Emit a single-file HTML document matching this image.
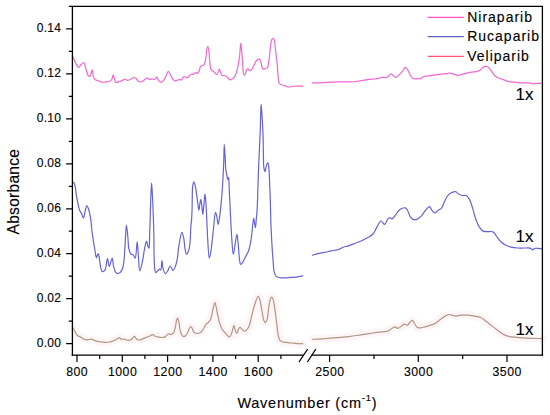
<!DOCTYPE html>
<html><head><meta charset="utf-8"><style>
html,body{margin:0;padding:0;background:#fff;}
body{width:550px;height:415px;overflow:hidden;font-family:"Liberation Sans",sans-serif;}
svg{display:block;}
</style></head><body>
<svg width="550" height="415" viewBox="0 0 550 415">
<rect width="550" height="415" fill="#fff"/>
<g fill="none" stroke-linejoin="round" stroke-linecap="round">
<polyline points="72.3,326.5 74.9,331.4 77.4,335.5 79.8,336.6 83.1,338.7 87.2,339.9 91.3,339.2 95.4,340.9 99.5,341.7 104.4,342.3 109.3,342.0 113.4,340.9 117.5,338.7 119.4,337.6 121.1,339.1 124.0,339.2 128.1,340.4 131.4,339.5 134.2,336.3 137.1,339.5 140.4,339.9 143.6,338.4 146.9,337.1 149.4,336.3 152.7,334.6 155.1,336.3 158.6,337.2 162.3,337.5 165.2,336.9 168.1,334.0 170.3,334.3 173.2,333.5 175.4,327.0 176.5,320.5 177.5,318.0 178.7,321.2 180.0,329.2 181.5,334.3 183.4,336.5 185.5,335.7 187.7,332.5 189.9,327.7 191.4,326.7 192.8,329.9 194.6,332.8 197.2,333.5 200.1,332.8 202.3,330.6 204.5,327.0 206.2,324.1 208.1,322.6 210.3,320.0 212.0,313.9 213.5,306.6 214.9,302.6 216.4,308.1 217.8,315.4 219.7,323.4 221.9,328.7 224.8,332.5 227.5,335.5 229.7,337.0 232.0,332.0 233.9,325.4 235.2,330.4 236.7,333.5 238.3,329.6 239.9,327.3 242.2,329.6 244.6,331.2 246.9,329.6 249.3,325.7 251.6,316.3 254.0,306.9 256.3,299.9 258.2,296.3 259.7,299.1 261.8,310.0 263.8,320.2 265.4,322.6 267.3,318.6 268.8,306.9 270.4,299.1 271.6,297.2 273.2,299.9 274.8,308.5 276.6,322.6 278.2,335.1 279.8,340.1 282.1,341.7 287.6,342.6 293.9,343.2 298.6,343.7 303.2,343.7" stroke="#fef5f7" stroke-width="8"/>
<polyline points="311.9,339.3 322.5,338.8 337.7,337.7 348.6,336.6 359.5,335.1 370.5,333.4 379.2,332.1 387.5,331.2 391.2,329.0 394.9,326.8 397.7,328.3 401.0,326.4 404.3,324.2 407.6,325.1 409.7,322.5 412.4,320.3 414.5,323.5 417.4,327.5 420.6,327.9 424.6,326.8 427.1,326.3 434.2,323.9 440.1,319.7 446.0,315.6 449.6,314.5 453.1,315.6 456.6,316.1 460.2,315.2 467.3,315.2 474.4,316.1 480.3,317.3 485.0,320.4 490.9,325.1 498.0,330.5 503.9,334.6 508.7,336.4 516.9,337.4 526.4,338.1 542.4,338.6" stroke="#fef5f7" stroke-width="8"/>
</g>
<g fill="none" stroke-width="1.2" stroke-linejoin="round">
<path d="M72.40,55.00 C72.73,55.90 73.68,58.72 74.40,60.40 C75.06,61.93 75.71,63.49 76.50,64.70 C77.17,65.72 77.97,67.30 78.70,67.30 C79.43,67.30 80.07,65.49 80.90,64.70 C81.76,63.88 83.02,62.26 83.80,62.50 C84.88,62.84 85.26,66.91 86.00,69.10 C86.73,71.28 87.19,74.52 88.20,75.60 C88.75,76.19 89.56,76.65 90.10,76.40 C91.08,75.94 91.56,69.78 92.10,69.80 C92.60,69.82 92.76,73.87 93.30,75.60 C93.76,77.08 94.08,78.75 95.00,79.60 C95.84,80.37 97.26,80.28 98.40,80.70 C99.59,81.14 100.71,81.99 102.00,82.20 C103.37,82.43 105.09,82.04 106.40,81.90 C107.47,81.79 108.43,81.83 109.30,81.50 C110.13,81.18 110.90,80.79 111.50,80.00 C112.36,78.88 112.79,74.89 113.30,74.90 C113.73,74.91 113.99,77.30 114.40,78.50 C114.82,79.73 114.93,81.71 115.80,82.20 C116.65,82.68 118.35,81.82 119.50,81.50 C120.54,81.21 121.47,80.82 122.40,80.40 C123.30,79.99 124.14,78.99 125.00,79.00 C125.84,79.01 126.62,80.33 127.50,80.40 C128.42,80.47 129.39,79.74 130.40,79.30 C131.55,78.80 132.94,77.52 134.00,77.50 C134.82,77.48 135.53,77.96 136.20,78.50 C137.03,79.18 137.42,81.00 138.40,81.50 C139.36,81.99 140.99,81.81 142.00,81.50 C142.87,81.23 143.57,80.46 144.20,80.00 C144.70,79.64 145.03,79.33 145.50,79.00 C146.02,78.63 146.60,77.89 147.20,77.90 C147.89,77.91 148.58,79.22 149.40,79.40 C150.27,79.59 151.40,78.88 152.30,78.90 C153.09,78.92 153.83,79.60 154.50,79.40 C155.28,79.16 155.94,77.13 156.60,77.20 C157.38,77.28 157.96,79.92 158.80,80.80 C159.47,81.50 160.22,82.32 161.00,82.30 C161.91,82.28 163.09,81.08 163.90,80.10 C164.84,78.96 165.36,77.16 166.10,75.70 C166.83,74.26 167.54,71.43 168.30,71.40 C169.01,71.37 169.78,73.80 170.50,75.00 C171.21,76.20 171.82,77.59 172.60,78.60 C173.27,79.47 173.94,80.56 174.80,80.80 C175.64,81.04 176.80,80.35 177.70,80.10 C178.49,79.88 179.24,79.36 179.90,79.40 C180.46,79.44 180.94,80.24 181.40,80.10 C182.05,79.90 182.39,77.79 183.10,77.20 C183.65,76.74 184.36,76.43 185.00,76.50 C185.73,76.58 186.50,77.98 187.20,77.90 C187.97,77.82 188.66,76.37 189.40,75.70 C190.09,75.08 190.74,74.21 191.50,74.00 C192.19,73.81 193.04,74.51 193.70,74.30 C194.42,74.07 194.94,72.58 195.60,72.50 C196.18,72.43 196.85,73.61 197.40,73.50 C198.03,73.38 198.62,72.31 199.10,71.40 C199.77,70.12 199.78,67.22 200.60,66.30 C201.11,65.73 201.92,65.77 202.50,65.50 C203.01,65.27 203.49,65.30 203.90,64.80 C204.76,63.77 205.33,60.65 205.80,58.30 C206.34,55.61 206.34,51.69 206.80,49.50 C207.08,48.15 207.48,46.30 207.80,46.30 C208.12,46.30 208.44,48.10 208.70,49.50 C209.17,52.05 209.26,56.98 209.70,60.50 C210.11,63.76 210.12,68.20 211.20,69.90 C211.77,70.80 212.77,70.88 213.40,71.40 C213.94,71.85 214.27,72.32 214.80,72.80 C215.44,73.38 216.36,74.76 217.00,74.60 C217.92,74.37 218.54,69.20 219.20,69.20 C219.71,69.20 220.10,71.44 220.60,72.50 C221.07,73.51 221.40,74.95 222.10,75.40 C222.65,75.75 223.43,75.37 224.10,75.50 C224.80,75.63 225.55,75.79 226.20,76.20 C226.94,76.67 227.47,77.68 228.20,78.30 C228.93,78.92 229.79,79.89 230.60,79.90 C231.42,79.91 232.34,79.02 233.10,78.30 C234.00,77.46 234.80,76.45 235.50,75.00 C236.56,72.80 237.32,69.08 238.00,66.00 C238.70,62.82 239.15,59.71 239.60,56.20 C240.11,52.16 240.41,43.11 240.80,43.10 C241.07,43.10 241.35,47.05 241.60,49.60 C241.96,53.21 242.24,58.48 242.60,62.70 C242.94,66.66 242.77,72.64 243.70,74.20 C244.03,74.75 244.55,75.12 244.90,75.00 C245.50,74.79 245.65,72.05 246.20,70.90 C246.65,69.96 247.24,68.53 247.80,68.50 C248.34,68.47 248.82,70.46 249.50,70.60 C250.18,70.74 251.19,70.03 251.90,69.30 C252.91,68.26 253.55,65.95 254.40,64.40 C255.19,62.96 255.84,61.19 256.80,60.30 C257.54,59.62 258.63,58.89 259.30,59.10 C260.02,59.33 260.46,60.76 260.90,61.90 C261.50,63.43 261.49,66.32 262.20,67.60 C262.65,68.42 263.31,69.20 263.90,69.30 C264.41,69.38 264.93,68.77 265.50,68.50 C266.13,68.20 266.97,68.27 267.50,67.60 C268.53,66.30 268.62,62.62 269.10,59.50 C269.74,55.32 270.11,48.34 270.70,44.70 C271.05,42.55 271.23,40.70 271.80,39.60 C272.13,38.96 272.60,38.30 273.00,38.30 C273.40,38.30 273.87,38.90 274.20,39.60 C274.92,41.13 274.91,44.81 275.30,48.00 C275.82,52.22 276.52,57.94 277.00,62.70 C277.45,67.19 277.67,72.06 278.10,75.80 C278.43,78.62 278.30,81.72 279.20,83.20 C279.74,84.09 280.55,84.41 281.40,84.80 C282.33,85.23 283.54,85.24 284.60,85.60 C285.71,85.97 286.72,86.83 287.90,87.00 C289.17,87.18 290.57,86.65 292.00,86.50 C293.56,86.34 295.16,86.17 296.90,86.10 C298.87,86.02 302.15,86.10 303.20,86.10" stroke="#f266d2"/>
<path d="M311.90,82.80 C313.17,82.80 316.99,82.89 319.50,82.80 C321.96,82.72 324.37,82.42 326.80,82.30 C329.23,82.18 331.67,82.18 334.10,82.10 C336.53,82.02 338.97,81.85 341.40,81.80 C343.81,81.75 346.19,81.85 348.60,81.80 C351.03,81.75 353.47,81.73 355.90,81.50 C358.34,81.27 360.91,80.79 363.20,80.40 C365.25,80.05 367.04,79.53 369.00,79.30 C370.98,79.06 373.16,79.25 375.00,79.00 C376.59,78.78 377.99,78.33 379.40,78.00 C380.71,77.70 381.97,77.15 383.20,77.10 C384.33,77.05 385.57,77.84 386.50,77.60 C387.33,77.39 387.88,76.59 388.60,76.00 C389.41,75.34 390.33,73.80 391.10,73.80 C391.78,73.80 392.29,74.94 393.00,75.50 C393.80,76.14 394.80,77.40 395.70,77.40 C396.60,77.40 397.49,76.27 398.40,75.50 C399.48,74.59 400.79,73.28 401.70,72.20 C402.47,71.29 402.97,70.35 403.60,69.50 C404.17,68.72 404.68,67.37 405.30,67.30 C405.89,67.24 406.65,68.20 407.20,68.90 C407.86,69.75 408.27,71.10 408.80,72.20 C409.33,73.30 409.76,74.49 410.40,75.50 C411.03,76.48 411.72,77.64 412.60,78.20 C413.38,78.70 414.35,78.81 415.30,78.90 C416.34,79.00 417.61,78.73 418.60,78.70 C419.41,78.68 420.26,78.92 420.80,78.70 C421.21,78.53 421.32,78.08 421.70,77.80 C422.18,77.44 422.76,77.07 423.50,76.80 C424.51,76.42 425.98,76.23 427.30,76.00 C428.71,75.76 430.29,75.59 431.70,75.40 C433.01,75.22 434.12,75.09 435.50,74.90 C437.14,74.67 439.09,74.32 440.90,74.10 C442.72,73.88 444.85,73.83 446.40,73.60 C447.56,73.43 448.36,72.99 449.40,73.00 C450.52,73.02 451.76,73.48 452.90,73.80 C454.02,74.11 455.25,74.62 456.20,74.90 C456.92,75.11 457.37,75.41 458.10,75.40 C459.09,75.39 460.36,74.73 461.60,74.40 C462.98,74.03 464.45,73.65 466.00,73.30 C467.70,72.91 469.50,72.52 471.40,72.20 C473.48,71.85 476.34,71.93 478.00,71.30 C479.16,70.86 479.82,70.18 480.70,69.50 C481.63,68.79 482.49,67.62 483.40,67.10 C484.13,66.69 484.86,66.45 485.60,66.40 C486.33,66.35 487.17,66.47 487.80,66.80 C488.44,67.13 488.80,67.71 489.40,68.40 C490.32,69.46 491.51,71.29 492.60,72.70 C493.68,74.09 494.57,75.83 495.90,76.80 C497.16,77.72 498.84,77.95 500.30,78.50 C501.74,79.05 503.26,79.59 504.60,80.10 C505.77,80.55 506.64,81.06 507.90,81.40 C509.48,81.82 511.49,81.97 513.40,82.20 C515.47,82.45 517.73,82.68 519.90,82.80 C522.06,82.92 524.44,82.84 526.40,82.90 C528.01,82.95 529.72,82.79 530.80,83.10 C531.50,83.30 531.84,83.92 532.40,84.00 C532.94,84.08 533.44,83.70 534.10,83.60 C534.99,83.47 536.11,83.45 537.30,83.40 C538.80,83.34 541.55,83.32 542.40,83.30" stroke="#f266d2"/>
<path d="M72.30,183.10 C72.52,182.98 73.21,182.26 73.60,182.40 C74.23,182.62 74.68,184.46 75.10,186.00 C75.78,188.50 75.97,193.09 76.50,196.20 C76.95,198.84 77.49,201.14 78.00,203.50 C78.49,205.73 78.78,208.20 79.50,210.00 C80.07,211.43 80.97,212.32 81.60,213.60 C82.28,214.97 82.84,218.04 83.40,218.00 C84.10,217.95 84.71,212.91 85.30,210.70 C85.80,208.85 86.11,205.68 86.70,205.60 C87.13,205.54 87.76,207.10 88.20,208.10 C88.77,209.41 89.18,211.01 89.60,212.90 C90.19,215.52 90.72,219.45 91.10,222.40 C91.43,224.96 91.49,226.96 91.80,229.60 C92.18,232.84 92.76,236.86 93.30,240.40 C93.83,243.83 94.42,247.41 95.00,250.50 C95.49,253.14 95.90,257.75 96.50,257.80 C96.97,257.84 97.64,253.49 98.10,253.50 C98.48,253.50 98.79,255.12 99.10,256.40 C99.66,258.73 99.83,263.73 100.50,266.50 C100.99,268.52 101.37,271.24 102.30,271.60 C102.99,271.87 104.18,271.15 104.90,270.20 C106.35,268.28 106.71,258.50 107.50,258.50 C108.15,258.50 108.54,266.46 109.30,266.50 C110.09,266.54 111.48,258.04 112.20,258.10 C112.90,258.16 112.83,263.91 113.60,266.50 C114.31,268.88 115.10,272.36 116.50,273.10 C117.51,273.63 119.18,273.17 120.20,272.40 C121.54,271.38 122.35,269.15 123.10,266.50 C124.42,261.84 124.45,253.04 125.00,246.20 C125.56,239.24 125.83,225.12 126.40,225.10 C126.84,225.09 127.48,233.43 127.90,237.50 C128.31,241.43 128.14,246.06 128.90,249.10 C129.43,251.20 130.12,253.31 131.10,254.20 C131.73,254.77 132.67,254.40 133.30,254.90 C134.10,255.54 134.67,258.21 135.20,258.10 C136.32,257.87 136.66,241.79 137.20,241.80 C137.71,241.81 137.97,251.54 138.40,256.40 C138.83,261.24 139.00,270.83 139.80,270.90 C140.47,270.96 141.74,264.47 142.50,261.00 C143.33,257.24 143.76,252.66 144.50,249.10 C145.11,246.16 145.90,241.10 146.50,241.10 C146.97,241.10 147.31,244.71 147.80,246.00 C148.14,246.90 148.61,248.26 148.90,248.20 C149.54,248.07 149.39,240.62 149.60,236.00 C149.87,229.95 150.07,222.08 150.30,215.00 C150.54,207.75 150.73,198.90 151.00,193.00 C151.18,189.02 151.38,183.00 151.60,183.00 C151.84,183.00 152.16,190.78 152.40,195.00 C152.67,199.72 152.89,204.52 153.10,210.00 C153.36,216.63 153.59,223.87 153.80,232.00 C154.06,242.10 153.86,259.08 154.50,266.00 C154.79,269.07 154.88,272.32 155.60,272.60 C155.97,272.74 156.55,271.91 157.00,271.50 C157.48,271.06 157.93,270.40 158.40,270.00 C158.80,269.66 159.22,269.17 159.60,269.20 C159.99,269.23 160.39,270.31 160.70,270.20 C161.49,269.91 161.59,260.70 162.00,260.70 C162.38,260.70 162.41,266.58 163.10,268.90 C163.66,270.76 164.53,273.59 165.40,273.70 C166.13,273.79 167.06,271.94 167.80,270.80 C168.68,269.44 169.31,266.05 170.20,266.00 C171.08,265.95 172.21,270.44 173.10,270.40 C173.97,270.36 174.83,267.77 175.50,266.00 C176.40,263.64 177.00,260.22 177.50,257.30 C178.00,254.39 178.16,251.05 178.50,248.50 C178.76,246.54 178.90,245.34 179.30,243.30 C179.88,240.32 181.06,232.44 181.90,232.40 C182.48,232.37 183.13,235.43 183.60,237.50 C184.30,240.56 184.48,246.03 185.10,249.10 C185.51,251.16 185.85,254.11 186.50,254.20 C187.09,254.28 188.13,252.11 188.70,250.50 C189.58,248.02 189.84,244.09 190.20,240.40 C190.63,235.99 190.59,229.64 190.90,225.80 C191.10,223.29 191.41,221.99 191.60,219.60 C191.85,216.34 191.94,212.47 192.10,208.00 C192.32,201.87 192.09,190.68 192.70,186.20 C192.98,184.15 193.37,181.82 193.80,181.80 C194.24,181.78 194.87,184.46 195.30,186.20 C195.90,188.59 196.25,191.79 196.70,194.90 C197.22,198.49 197.76,203.71 198.20,206.50 C198.45,208.08 198.66,210.20 198.90,210.20 C199.22,210.19 199.55,205.56 199.90,203.60 C200.19,202.01 200.51,199.29 200.80,199.30 C201.14,199.31 201.50,202.93 201.80,205.10 C202.18,207.85 202.45,214.50 202.80,214.50 C203.18,214.50 203.62,207.10 204.00,203.60 C204.35,200.35 204.67,194.20 205.00,194.20 C205.30,194.20 205.65,199.21 205.90,202.20 C206.22,206.01 206.36,210.30 206.60,215.20 C206.92,221.57 207.14,229.96 207.60,237.20 C208.05,244.29 208.51,258.14 209.30,258.20 C209.78,258.23 210.46,253.81 211.00,250.60 C211.91,245.21 212.70,235.47 213.50,228.70 C214.19,222.84 214.70,212.37 215.50,212.30 C215.93,212.26 216.49,215.17 216.90,216.90 C217.42,219.08 217.73,224.40 218.20,224.40 C218.72,224.40 219.43,218.47 219.90,215.20 C220.43,211.52 220.75,207.00 221.10,203.40 C221.40,200.36 221.63,198.37 221.90,195.00 C222.30,189.94 222.78,182.06 223.10,176.00 C223.40,170.44 223.60,165.30 223.80,160.00 C224.00,154.77 224.05,144.40 224.30,144.40 C224.55,144.40 225.06,155.55 225.30,160.00 C225.48,163.32 225.42,166.10 225.70,168.70 C225.93,170.84 226.36,172.63 226.70,174.50 C227.02,176.26 227.30,179.56 227.70,179.60 C227.97,179.63 228.36,177.46 228.60,177.50 C229.13,177.59 228.98,184.84 229.20,189.10 C229.47,194.31 229.84,201.11 230.10,206.50 C230.33,211.18 230.46,214.91 230.70,219.60 C230.98,225.04 231.26,231.36 231.70,237.20 C232.13,243.00 232.61,254.47 233.30,254.50 C233.86,254.52 234.66,246.55 235.30,243.00 C235.85,239.92 236.42,234.39 236.90,234.40 C237.39,234.41 237.82,240.23 238.20,243.70 C238.68,248.08 238.85,254.82 239.40,258.60 C239.74,260.96 239.84,264.07 240.60,264.30 C241.15,264.47 242.12,263.12 242.80,262.20 C243.73,260.95 244.40,258.99 245.30,257.20 C246.34,255.13 247.78,253.12 248.70,250.50 C249.87,247.18 250.52,242.90 251.20,238.70 C251.96,233.97 252.40,227.21 252.90,223.50 C253.19,221.34 253.37,218.40 253.70,218.40 C254.15,218.39 254.98,227.72 255.40,227.70 C255.78,227.69 255.94,222.81 256.20,220.10 C256.50,216.97 256.84,214.12 257.10,210.00 C257.50,203.53 257.72,192.87 258.00,185.00 C258.25,177.96 258.45,171.19 258.70,165.00 C258.92,159.64 259.16,155.23 259.40,150.00 C259.66,144.27 259.96,138.43 260.20,132.00 C260.47,124.58 260.65,112.46 260.90,108.00 C261.00,106.27 261.07,104.40 261.20,104.40 C261.48,104.40 262.08,116.25 262.40,121.80 C262.70,126.88 262.92,130.97 263.10,136.40 C263.32,143.24 263.34,153.95 263.50,159.60 C263.59,162.86 263.46,165.12 263.80,167.30 C264.06,168.96 264.58,171.61 265.00,171.60 C265.54,171.59 265.99,165.86 266.70,164.40 C267.06,163.66 267.58,162.82 267.90,162.90 C268.47,163.05 268.64,166.37 268.90,168.70 C269.29,172.18 269.38,176.88 269.60,181.80 C269.89,188.15 270.18,196.50 270.40,203.60 C270.61,210.38 270.65,216.84 270.90,223.50 C271.15,230.21 271.51,237.27 271.90,243.70 C272.25,249.59 272.66,255.47 273.10,260.60 C273.47,264.89 273.43,269.52 274.30,272.40 C274.85,274.22 275.40,275.70 276.50,276.60 C277.56,277.46 279.22,277.59 280.70,277.80 C282.28,278.02 284.03,277.87 285.70,277.80 C287.39,277.73 289.11,277.52 290.80,277.40 C292.47,277.28 294.30,277.26 295.80,277.10 C297.05,276.97 298.02,276.82 299.20,276.60 C300.48,276.36 302.53,275.85 303.20,275.70" stroke="#6462d8"/>
<path d="M311.90,255.30 C312.93,255.03 316.00,254.18 318.10,253.70 C320.23,253.21 322.43,252.86 324.60,252.40 C326.79,251.93 329.00,251.34 331.20,250.90 C333.37,250.47 335.67,250.44 337.70,249.80 C339.65,249.19 341.34,247.86 343.20,247.20 C344.98,246.57 346.73,246.49 348.60,245.90 C350.71,245.23 353.01,244.17 355.20,243.30 C357.38,242.44 359.65,241.65 361.70,240.70 C363.63,239.81 365.39,238.83 367.20,237.80 C369.02,236.76 371.05,236.08 372.60,234.50 C374.42,232.64 375.54,229.25 377.00,226.90 C378.31,224.79 379.51,221.18 380.90,221.00 C382.07,220.85 383.40,224.45 384.60,224.30 C386.12,224.11 387.42,218.24 389.00,217.70 C390.05,217.34 391.29,219.08 392.30,218.80 C393.53,218.46 394.44,216.31 395.60,214.90 C396.95,213.26 398.16,210.66 399.90,209.50 C401.48,208.44 404.06,207.50 405.40,207.90 C406.43,208.21 406.88,209.36 407.60,210.50 C408.69,212.21 409.32,215.91 410.80,217.50 C412.00,218.78 413.73,219.90 415.20,219.90 C416.67,219.90 418.44,218.32 419.60,217.50 C420.47,216.88 420.98,216.41 421.70,215.60 C422.67,214.51 423.52,212.80 424.70,211.40 C426.06,209.80 428.25,206.46 429.50,206.60 C430.49,206.71 430.92,209.12 431.80,210.20 C432.66,211.25 433.70,212.94 434.70,213.00 C435.67,213.06 436.62,211.50 437.70,210.70 C438.93,209.78 440.59,209.18 441.70,207.80 C443.09,206.08 443.64,202.92 444.80,200.70 C445.89,198.60 447.03,196.21 448.40,194.80 C449.46,193.70 450.68,193.02 451.90,192.50 C453.05,192.01 454.36,191.46 455.50,191.70 C456.74,191.96 457.77,193.66 459.00,194.30 C460.15,194.90 461.39,195.30 462.60,195.50 C463.76,195.69 465.03,195.01 466.10,195.50 C467.42,196.11 468.57,197.79 469.60,199.60 C471.08,202.21 472.31,207.26 473.20,210.20 C473.82,212.26 474.04,213.67 474.60,215.50 C475.22,217.52 475.96,219.80 476.80,221.80 C477.60,223.72 478.41,225.70 479.50,227.30 C480.50,228.77 481.59,230.39 483.00,231.10 C484.35,231.78 486.18,231.52 487.70,231.60 C489.11,231.67 490.68,231.37 491.80,231.60 C492.64,231.77 493.20,231.92 493.90,232.50 C495.04,233.44 496.07,235.88 497.30,237.50 C498.56,239.15 499.94,241.01 501.40,242.30 C502.69,243.44 503.99,244.22 505.50,245.00 C507.14,245.84 508.96,246.60 510.90,247.10 C513.01,247.64 515.42,247.85 517.70,248.00 C519.99,248.15 522.44,247.96 524.60,248.00 C526.51,248.04 528.53,247.78 530.00,248.20 C531.13,248.52 531.96,249.84 532.80,249.80 C533.53,249.77 534.00,248.65 534.80,248.40 C535.75,248.10 537.01,248.30 538.20,248.40 C539.53,248.51 541.70,248.98 542.40,249.10" stroke="#6462d8"/>
<path d="M72.30,326.50 C72.73,327.32 74.02,329.85 74.90,331.40 C75.72,332.84 76.43,334.63 77.40,335.50 C78.12,336.14 78.95,336.14 79.80,336.60 C80.83,337.16 81.90,338.16 83.10,338.70 C84.36,339.27 85.82,339.82 87.20,339.90 C88.56,339.98 89.95,339.05 91.30,339.20 C92.69,339.36 94.01,340.48 95.40,340.90 C96.75,341.31 98.07,341.47 99.50,341.70 C101.06,341.95 102.76,342.25 104.40,342.30 C106.03,342.35 107.75,342.25 109.30,342.00 C110.74,341.77 112.06,341.43 113.40,340.90 C114.80,340.35 116.40,339.32 117.50,338.70 C118.26,338.28 118.80,337.54 119.40,337.60 C120.01,337.66 120.40,338.82 121.10,339.10 C121.89,339.42 122.96,339.03 124.00,339.20 C125.26,339.40 126.81,340.39 128.10,340.40 C129.26,340.41 130.42,340.11 131.40,339.50 C132.49,338.82 133.25,336.31 134.20,336.30 C135.15,336.29 135.98,338.92 137.10,339.50 C138.08,340.01 139.33,340.07 140.40,339.90 C141.50,339.72 142.52,338.87 143.60,338.40 C144.68,337.93 145.87,337.47 146.90,337.10 C147.79,336.78 148.52,336.66 149.40,336.30 C150.44,335.87 151.71,334.53 152.70,334.60 C153.58,334.66 154.18,335.87 155.10,336.30 C156.12,336.77 157.41,337.00 158.60,337.20 C159.81,337.40 161.15,337.57 162.30,337.50 C163.33,337.44 164.30,337.39 165.20,336.90 C166.26,336.33 167.12,334.33 168.10,334.00 C168.82,333.76 169.52,334.35 170.30,334.30 C171.21,334.24 172.42,334.23 173.20,333.50 C174.37,332.39 174.85,329.19 175.40,327.00 C175.94,324.85 176.04,322.14 176.50,320.50 C176.79,319.45 177.16,318.00 177.50,318.00 C177.89,318.00 178.35,319.87 178.70,321.20 C179.24,323.25 179.46,326.85 180.00,329.20 C180.43,331.11 180.80,333.01 181.50,334.30 C182.02,335.26 182.68,336.32 183.40,336.50 C184.03,336.66 184.86,336.20 185.50,335.70 C186.34,335.04 187.01,333.71 187.70,332.50 C188.50,331.09 189.09,328.65 189.90,327.70 C190.37,327.14 190.97,326.57 191.40,326.70 C192.00,326.88 192.26,328.88 192.80,329.90 C193.33,330.91 193.80,332.21 194.60,332.80 C195.31,333.33 196.31,333.49 197.20,333.50 C198.14,333.51 199.26,333.27 200.10,332.80 C200.96,332.32 201.61,331.47 202.30,330.60 C203.10,329.59 203.82,328.14 204.50,327.00 C205.11,325.98 205.54,324.86 206.20,324.10 C206.76,323.45 207.47,323.21 208.10,322.60 C208.84,321.88 209.70,321.13 210.30,320.00 C211.12,318.46 211.48,316.03 212.00,313.90 C212.56,311.59 212.93,308.65 213.50,306.60 C213.93,305.05 214.45,302.58 214.90,302.60 C215.42,302.62 215.94,306.13 216.40,308.10 C216.92,310.35 217.27,312.92 217.80,315.40 C218.36,318.01 218.93,321.03 219.70,323.40 C220.34,325.38 221.00,327.13 221.90,328.70 C222.72,330.13 223.83,331.33 224.80,332.50 C225.69,333.58 226.60,334.71 227.50,335.50 C228.23,336.14 229.05,337.18 229.70,337.00 C230.64,336.74 231.33,333.81 232.00,332.00 C232.75,329.98 233.34,325.39 233.90,325.40 C234.39,325.41 234.67,328.95 235.20,330.40 C235.63,331.58 236.21,333.52 236.70,333.50 C237.24,333.48 237.70,330.70 238.30,329.60 C238.79,328.70 239.28,327.36 239.90,327.30 C240.57,327.24 241.39,328.94 242.20,329.60 C242.96,330.22 243.81,331.21 244.60,331.20 C245.38,331.19 246.20,330.35 246.90,329.60 C247.80,328.65 248.61,327.35 249.30,325.70 C250.30,323.30 250.82,319.43 251.60,316.30 C252.38,313.16 253.16,309.79 254.00,306.90 C254.73,304.38 255.48,301.82 256.30,299.90 C256.91,298.47 257.60,296.30 258.20,296.30 C258.73,296.30 259.24,297.81 259.70,299.10 C260.55,301.50 261.11,306.43 261.80,310.00 C262.47,313.46 262.91,318.03 263.80,320.20 C264.27,321.34 264.88,322.64 265.40,322.60 C266.05,322.55 266.79,320.33 267.30,318.60 C268.13,315.77 268.22,310.40 268.80,306.90 C269.28,304.03 269.72,300.78 270.40,299.10 C270.76,298.21 271.18,297.19 271.60,297.20 C272.10,297.21 272.75,298.69 273.20,299.90 C273.96,301.91 274.29,305.27 274.80,308.50 C275.44,312.61 276.02,318.04 276.60,322.60 C277.15,326.89 277.49,331.90 278.20,335.10 C278.66,337.17 278.97,338.97 279.80,340.10 C280.41,340.92 281.11,341.30 282.10,341.70 C283.49,342.26 285.70,342.35 287.60,342.60 C289.62,342.86 291.95,343.00 293.90,343.20 C295.58,343.37 297.04,343.62 298.60,343.70 C300.14,343.78 302.43,343.70 303.20,343.70" stroke="#b29585"/>
<path d="M311.90,339.30 C313.67,339.22 318.65,339.03 322.50,338.80 C327.11,338.52 333.06,338.10 337.70,337.70 C341.64,337.36 344.97,337.03 348.60,336.60 C352.24,336.17 355.86,335.63 359.50,335.10 C363.16,334.57 367.05,333.92 370.50,333.40 C373.57,332.93 376.33,332.47 379.20,332.10 C382.00,331.74 385.34,331.92 387.50,331.20 C389.05,330.68 389.97,329.73 391.20,329.00 C392.43,328.27 393.75,326.83 394.90,326.80 C395.89,326.78 396.73,328.31 397.70,328.30 C398.76,328.28 399.91,327.08 401.00,326.40 C402.11,325.71 403.16,324.39 404.30,324.20 C405.36,324.03 406.70,325.39 407.60,325.10 C408.49,324.81 408.91,323.29 409.70,322.50 C410.51,321.69 411.61,320.18 412.40,320.30 C413.22,320.43 413.73,322.38 414.50,323.50 C415.38,324.77 416.24,326.81 417.40,327.50 C418.34,328.06 419.48,327.98 420.60,327.90 C421.87,327.81 423.42,327.08 424.60,326.80 C425.53,326.58 426.07,326.58 427.10,326.30 C428.87,325.82 432.02,325.01 434.20,323.90 C436.35,322.80 438.13,321.09 440.10,319.70 C442.06,318.32 444.21,316.47 446.00,315.60 C447.29,314.97 448.41,314.50 449.60,314.50 C450.78,314.50 451.92,315.33 453.10,315.60 C454.26,315.86 455.43,316.16 456.60,316.10 C457.80,316.04 458.79,315.37 460.20,315.20 C462.16,314.96 464.94,315.05 467.30,315.20 C469.67,315.35 472.15,315.73 474.40,316.10 C476.46,316.44 478.51,316.56 480.30,317.30 C482.03,318.02 483.37,319.22 485.00,320.40 C486.88,321.77 488.83,323.49 490.90,325.10 C493.15,326.85 495.73,328.85 498.00,330.50 C500.04,331.98 501.97,333.59 503.90,334.60 C505.53,335.45 506.86,335.95 508.70,336.40 C511.04,336.97 514.06,337.12 516.90,337.40 C519.95,337.70 522.82,337.91 526.40,338.10 C531.04,338.34 539.73,338.52 542.40,338.60" stroke="#b29585"/>
</g>
<g stroke="#000" stroke-width="1.3" fill="none" stroke-linecap="square">
<path d="M72.4,355.1 L72.4,6.4 L542.4,6.4 L542.4,355.1"/>
<path d="M72.4,355.1 L303.3,355.1 M311.9,355.1 L542.4,355.1"/>
</g>
<g stroke="#000" stroke-width="1.3"><path d="M299,362 L307.7,349 M307.4,362 L315.9,349"/></g>
<path d="M66.1,343.7 L72.4,343.7 M68.8,321.2 L72.4,321.2 M66.1,298.7 L72.4,298.7 M68.8,276.2 L72.4,276.2 M66.1,253.7 L72.4,253.7 M68.8,231.2 L72.4,231.2 M66.1,208.8 L72.4,208.8 M68.8,186.3 L72.4,186.3 M66.1,163.8 L72.4,163.8 M68.8,141.3 L72.4,141.3 M66.1,118.8 L72.4,118.8 M68.8,96.3 L72.4,96.3 M66.1,73.8 L72.4,73.8 M68.8,51.3 L72.4,51.3 M66.1,28.8 L72.4,28.8 M68.8,6.4 L72.4,6.4 M77.0,355.1 L77.0,362.1 M99.7,355.1 L99.7,359.1 M122.3,355.1 L122.3,362.1 M144.9,355.1 L144.9,359.1 M167.6,355.1 L167.6,362.1 M190.2,355.1 L190.2,359.1 M212.9,355.1 L212.9,362.1 M235.6,355.1 L235.6,359.1 M258.2,355.1 L258.2,362.1 M280.9,355.1 L280.9,359.1 M329.6,355.1 L329.6,362.1 M374.0,355.1 L374.0,359.1 M418.3,355.1 L418.3,362.1 M462.7,355.1 L462.7,359.1 M507.0,355.1 L507.0,362.1" stroke="#000" stroke-width="1.2"/>
<g font-family="Liberation Sans, sans-serif" fill="#000" stroke="#000" stroke-width="0.12">
<g font-size="12" text-anchor="end" letter-spacing="0.3">
<text x="61.3" y="346.9">0.00</text>
<text x="61.3" y="301.9">0.02</text>
<text x="61.3" y="256.9">0.04</text>
<text x="61.3" y="212.0">0.06</text>
<text x="61.3" y="167.0">0.08</text>
<text x="61.3" y="122.0">0.10</text>
<text x="61.3" y="77.0">0.12</text>
<text x="61.3" y="32.0">0.14</text>
</g>
<g font-size="12.3" text-anchor="middle" letter-spacing="0.5">
<text x="77.2" y="375.9">800</text>
<text x="122.6" y="375.9">1000</text>
<text x="167.9" y="375.9">1200</text>
<text x="213.2" y="375.9">1400</text>
<text x="258.5" y="375.9">1600</text>
<text x="329.9" y="375.9">2500</text>
<text x="418.6" y="375.9">3000</text>
<text x="507.2" y="375.9">3500</text>
</g>
<g font-size="14" letter-spacing="1.0">
<line x1="427.7" y1="17.4" x2="463.8" y2="17.4" stroke="#ff55c8" stroke-width="1.3"/>
<line x1="427.7" y1="36.7" x2="463.8" y2="36.7" stroke="#5c64c4" stroke-width="1.3"/>
<line x1="427.7" y1="56.3" x2="463.8" y2="56.3" stroke="#ff5a6e" stroke-width="1.3"/>
<text x="467.2" y="21.7">Niraparib</text>
<text x="467.2" y="41.3">Rucaparib</text>
<text x="467.2" y="60.7">Veliparib</text>
</g>
<g font-size="17">
<text x="515.5" y="99.8">1x</text>
<text x="515.5" y="242.1">1x</text>
<text x="515.5" y="335.3">1x</text>
</g>
<text transform="translate(18.5,191.6) rotate(-90)" text-anchor="middle" font-size="15.6" letter-spacing="0.25">Absorbance</text>
<text x="237.4" y="407.7" font-size="14.5" letter-spacing="0.75">Wavenumber (cm<tspan font-size="9.5" dy="-6.5">-1</tspan><tspan dy="6.5">)</tspan></text>
</g>
</svg>
</body></html>
